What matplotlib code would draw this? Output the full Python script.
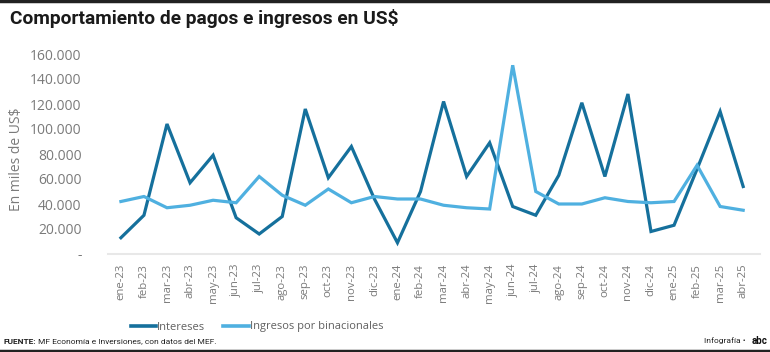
import matplotlib
matplotlib.use("Agg")
import matplotlib.pyplot as plt
from matplotlib.ticker import FuncFormatter
from matplotlib.lines import Line2D

# meses (ene-23 .. abr-25)
meses = ["ene-23", "feb-23", "mar-23", "abr-23", "may-23", "jun-23", "jul-23",
         "ago-23", "sep-23", "oct-23", "nov-23", "dic-23", "ene-24", "feb-24",
         "mar-24", "abr-24", "may-24", "jun-24", "jul-24", "ago-24", "sep-24",
         "oct-24", "nov-24", "dic-24", "ene-25", "feb-25", "mar-25", "abr-25"]

# miles de US$
intereses = [13000, 31000, 104000, 57000, 79000, 29000, 16000, 30000, 116000,
             61000, 86000, 44000, 9000, 50000, 122000, 62000, 89000, 38000,
             31000, 63000, 121000, 62000, 128000, 18000, 23000, 68000, 114000, 54000]
ingresos_bin = [42000, 46000, 37000, 39000, 43000, 41000, 62000, 47000, 39000,
                52000, 41000, 46000, 44000, 44000, 39000, 37000, 36000, 151000,
                50000, 40000, 40000, 45000, 42000, 41000, 42000, 71000, 38000, 35000]

yticks = [0, 20000, 40000, 60000, 80000, 100000, 120000, 140000, 160000]

c_dark = "#15709c"
c_light = "#4fb0e0"
c_txt = "#7a7a7a"
font = "Open Sans"
cond = "Roboto"

fig = plt.figure(figsize=(7.7, 3.52), dpi=100)
ax = fig.add_axes([108/770, 1-254/352, (760-108)/770, 200/352])

x = list(range(len(meses)))
ax.plot(x, intereses, color=c_dark, lw=2.3, solid_joinstyle="miter")
ax.plot(x, ingresos_bin, color=c_light, lw=2.3, solid_joinstyle="miter")

ax.set_xlim(-0.56, 27.73)
ax.set_ylim(0, 160000)
ax.set_yticks(yticks)
ax.yaxis.set_major_formatter(FuncFormatter(
    lambda v, p: "-" if v == 0 else f"{int(v):,}".replace(",", ".")))
ax.set_xticks(x)
ax.set_xticklabels(meses, rotation=90, fontsize=8.2, color=c_txt, family=font)
for lb in ax.get_yticklabels():
    lb.set_fontsize(10)
    lb.set_color(c_txt)
    lb.set_family(font)
ax.tick_params(axis="both", length=0)
ax.tick_params(axis="y", pad=19)
ax.tick_params(axis="x", pad=7)
for s in ["top", "right", "left"]:
    ax.spines[s].set_visible(False)
ax.spines["bottom"].set_color("#e8e8e8")
ax.spines["bottom"].set_linewidth(1.5)

fig.text(17/770, 1-159/352, "En miles de US$", rotation=90, ha="center", va="center",
         fontsize=10, color=c_txt, family=font)

# titulo
fig.text(10/770, 1-19/352, "Comportamiento de pagos e ingresos en US$",
         ha="left", va="center", fontsize=13.8, fontweight="bold",
         family=cond, color="#1a1a1a")

# leyenda
handles = [Line2D([], [], color=c_dark, lw=2.6),
           Line2D([], [], color=c_light, lw=2.6)]
fig.legend(handles, ["Intereses", "Ingresos por binacionales"], ncol=2,
           loc="center", bbox_to_anchor=(257/770, 1-327/352), frameon=False,
           handlelength=2.3, handletextpad=0.1, columnspacing=1.6,
           prop={"family": font, "size": 8},
           labelcolor="#606060")

# pie
t1 = fig.text(3/770, 1-341/352, "FUENTE:", ha="left", va="center", fontsize=6,
              fontweight="bold", family=cond, color="#222")
ax.annotate("MF Economía e Inversiones, con datos del MEF.", xy=(1, 0.5), xycoords=t1,
            xytext=(2, 0), textcoords="offset points",
            ha="left", va="center", fontsize=6, family=cond, color="#222",
            annotation_clip=False)
fig.text(746/770, 1-341/352, "Infografía •", ha="right", va="center", fontsize=6,
         family=cond, color="#222")
fig.text(767/770, 1-341/352, "abc", ha="right", va="center", fontsize=7,
         fontweight="bold", family=cond, color="#111")

# barras negras
fig.add_artist(Line2D([0, 1], [1-1/352, 1-1/352], color="#222", lw=2.5,
                      transform=fig.transFigure))
fig.add_artist(Line2D([0, 1], [1.5/352, 1.5/352], color="#222", lw=2.5,
                      transform=fig.transFigure))

fig.savefig("out.png", dpi=100, facecolor="white")
